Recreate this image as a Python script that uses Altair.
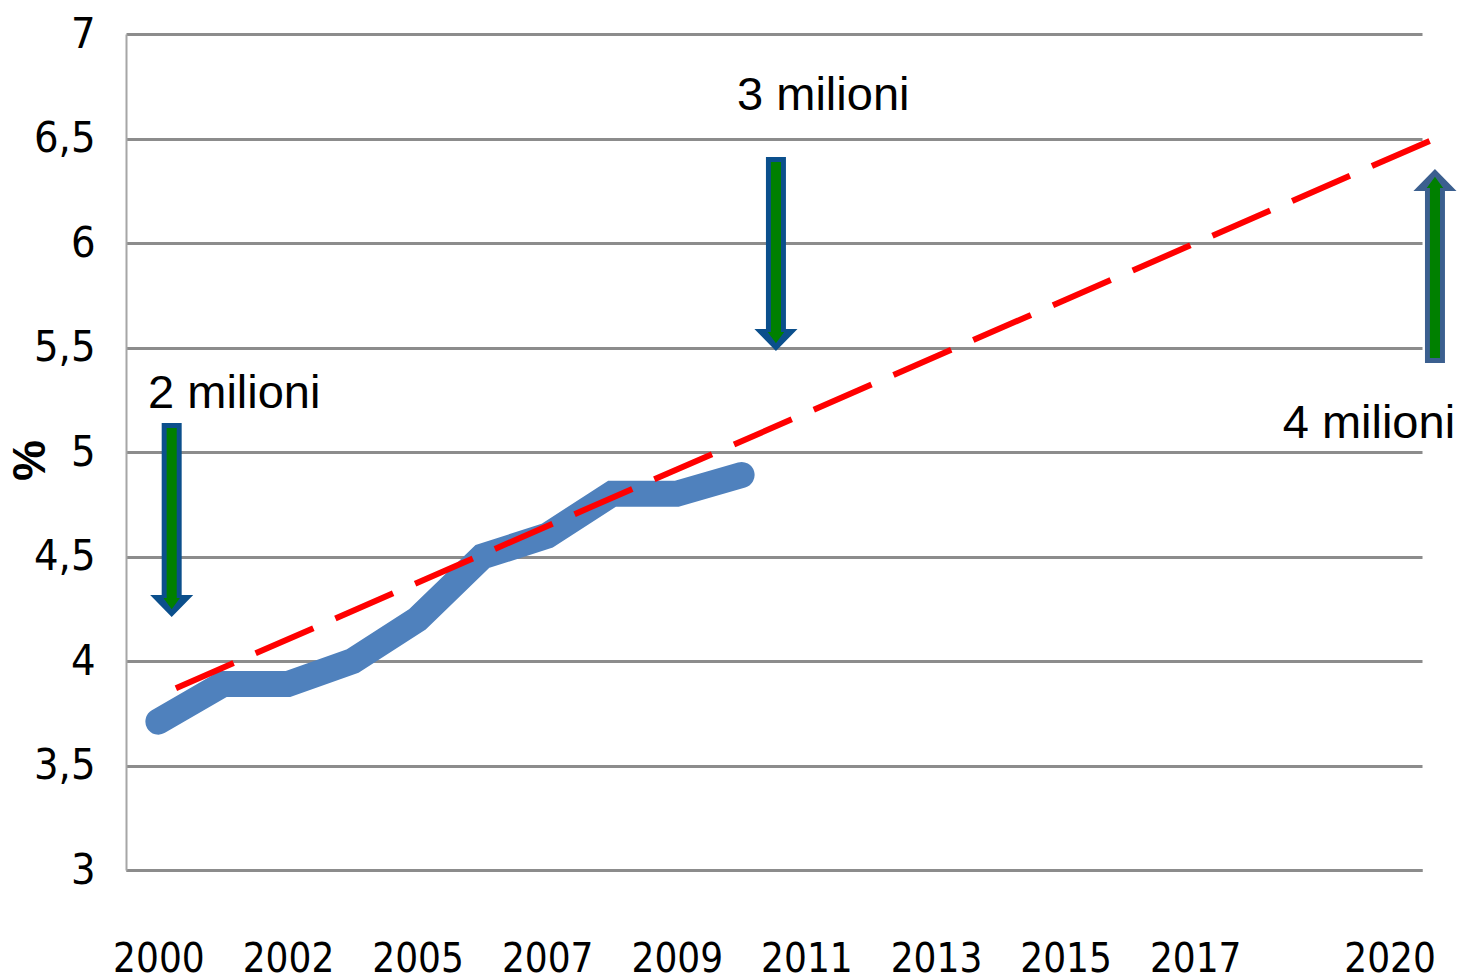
import altair as alt
import pandas as pd

# ---- data ----
cat_idx = [0, 1, 2, 3, 4, 5, 6, 7, 8, 9]
share = [3.71, 3.89, 3.89, 4.00, 4.20, 4.50, 4.60, 4.80, 4.80, 4.89]

trend_idx = [0.27, 19.85]
trend_val = [3.87, 6.52]

x_tick_idx = [0, 2, 4, 6, 8, 10, 12, 14, 16, 19]
x_tick_labels = ["2000", "2002", "2005", "2007", "2009", "2011", "2013", "2015", "2017", "2020"]
y_ticks = [3, 3.5, 4, 4.5, 5, 5.5, 6, 6.5, 7]

arrow_idx = [0.205, 9.53, 19.70]
arrow_from = [5.14, 6.41, 5.42]
arrow_to = [4.21, 5.485, 6.36]

label_text = ["2 milioni", "3 milioni", "4 milioni"]
label_idx = [-0.16, 8.93, 17.35]
label_val = [5.21, 6.636, 5.067]

# ---- tables ----
line_df = pd.DataFrame({"idx": cat_idx, "val": share})
trend_df = pd.DataFrame({"idx": trend_idx, "val": trend_val})
arrow_df = pd.DataFrame({"idx": arrow_idx, "from": arrow_from, "to": arrow_to})
label_df = pd.DataFrame({"idx": label_idx, "val": label_val, "text": label_text})

NARROW = "Liberation Sans Narrow, DejaVu Sans Condensed, sans-serif"
SANS = "Liberation Sans, Arial, sans-serif"

xs = alt.Scale(domain=[-0.5, 19.5], nice=False, zero=False)
ys = alt.Scale(domain=[3, 7], nice=False, zero=False)

x_label_expr = " : ".join(
    f"datum.value == {i} ? '{l}'" for i, l in zip(x_tick_idx, x_tick_labels)
) + " : ''"

x_axis = alt.Axis(
    values=x_tick_idx, labelExpr=x_label_expr, grid=False, ticks=False, tickSize=0,
    labelPadding=101, labelBaseline="alphabetic", labelFont=NARROW, labelFontSize=40,
    labelColor="black", domainColor="#8c8c8c", domainWidth=3, title="",
    labelAngle=0, labelOverlap=False,
)
y_axis = alt.Axis(
    values=y_ticks, labelExpr="replace(format(datum.value, '.1~f'), '.', ',')",
    grid=True, gridColor="#8c8c8c", gridWidth=3, ticks=False, tickSize=0,
    labelPadding=31, labelFont=NARROW, labelFontSize=43, labelColor="black",
    labelBaseline="middle", domainColor="#a6a6a6", domainWidth=2,
    title="%", titleFont=SANS, titleFontSize=46, titleFontWeight="bold",
    titleColor="black", titleX=-96, titleY=426, titleAngle=270,
    titleAlign="center", titleBaseline="middle", labelOverlap=False,
)

X = lambda f: alt.X(f, scale=xs, axis=x_axis)
Y = lambda f: alt.Y(f, scale=ys, axis=y_axis)

blue = alt.Chart(line_df).mark_line(
    color="#4F81BD", strokeWidth=26, strokeCap="round", strokeJoin="miter"
).encode(x=X("idx:Q"), y=Y("val:Q"))

trend = alt.Chart(trend_df).mark_line(
    color="#FF0000", strokeWidth=6, strokeDash=[63, 24], clip=False
).encode(x=X("idx:Q"), y=Y("val:Q"))

# arrow shapes (custom symbol paths, unit box scaled by sqrt(size)/2)
outer_down = "M -0.103 -1 L 0.103 -1 L 0.103 0.773 L 0.222 0.773 L 0 1 L -0.222 0.773 L -0.103 0.773 Z"
outer_up = "M -0.103 1 L 0.103 1 L 0.103 -0.773 L 0.222 -0.773 L 0 -1 L -0.222 -0.773 L -0.103 -0.773 Z"
inner_down = "M -0.052 -0.948 L 0.052 -0.948 L 0.052 0.804 L 0.085 0.804 L 0 0.92 L -0.085 0.804 L -0.052 0.804 Z"
inner_up = "M -0.052 0.948 L 0.052 0.948 L 0.052 -0.804 L 0.085 -0.804 L 0 -0.92 L -0.085 -0.804 L -0.052 -0.804 Z"

arrow_base = alt.Chart(arrow_df).transform_calculate(
    val="(datum['from'] + datum['to']) / 2",
    dir="datum['to'] < datum['from'] ? 'down' : 'up'",
)

arrow_outer = arrow_base.mark_point(
    filled=True, opacity=1, size=194 * 194, strokeWidth=0, clip=False
).encode(
    x=X("idx:Q"), y=Y("val:Q"),
    shape=alt.Shape("dir:N", scale=alt.Scale(domain=["down", "up"], range=[outer_down, outer_up]), legend=None),
    color=alt.condition(alt.datum.dir == "up", alt.value("#3B5F8F"), alt.value("#0B4F8C")),
)

arrow_inner = arrow_base.mark_point(
    filled=True, opacity=1, size=194 * 194, strokeWidth=0, clip=False, color="#008000"
).encode(
    x=X("idx:Q"), y=Y("val:Q"),
    shape=alt.Shape("dir:N", scale=alt.Scale(domain=["down", "up"], range=[inner_down, inner_up]), legend=None),
)

labels = alt.Chart(label_df).mark_text(
    align="left", baseline="alphabetic", font=SANS, fontSize=47, color="black", clip=False
).encode(x=X("idx:Q"), y=Y("val:Q"), text="text:N")

chart = alt.layer(blue, trend, arrow_outer, arrow_inner, labels).resolve_scale(
    shape="independent"
).properties(
    width=1296, height=836,
    padding={"left": 126, "top": 34, "right": 40, "bottom": 110},
    autosize=alt.AutoSizeParams(type="none"),
    background="white",
).configure_view(strokeWidth=0)

chart.save("out.html", embed_options={"renderer": "svg", "actions": False})
